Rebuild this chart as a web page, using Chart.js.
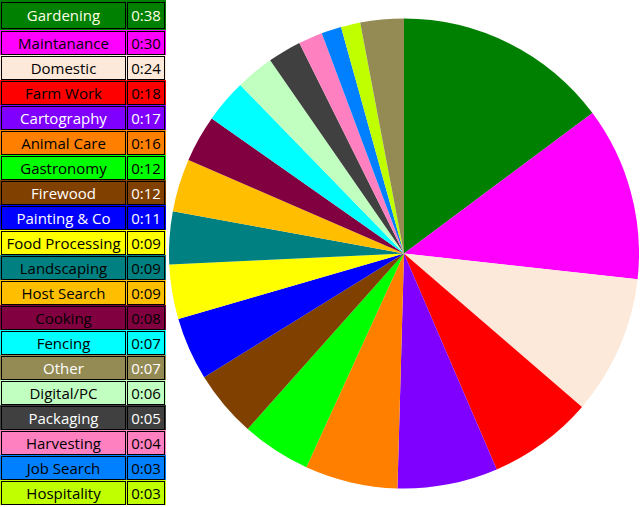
<!DOCTYPE html>
<html>
<head>
<meta charset="utf-8">
<script src="https://cdn.jsdelivr.net/npm/chart.js@4"></script>
<style>
html,body{margin:0;padding:0;background:#fff;width:640px;height:507px;overflow:hidden;}
#legend{position:absolute;left:0;top:0;width:166px;font-family:"Open Sans",sans-serif;font-size:15px;}
.row{position:absolute;left:0;width:166px;}
.cell{position:absolute;box-sizing:border-box;border:1px solid #000;display:flex;align-items:center;justify-content:center;white-space:nowrap;line-height:1;}
#wrap{position:absolute;left:169px;top:0;width:470px;height:507px;}
</style>
</head>
<body>
<div id="legend"></div>
<div id="wrap"><canvas id="c"></canvas></div>
<script>
// Categories in legend (table) order
const categories = ["Gardening","Maintanance","Domestic","Farm Work","Cartography","Animal Care","Gastronomy","Firewood","Painting & Co","Food Processing","Landscaping","Host Search","Cooking","Fencing","Other","Digital/PC","Packaging","Harvesting","Job Search","Hospitality"];
// Time labels shown in the table
const timeLabels = ["0:38","0:30","0:24","0:18","0:17","0:16","0:12","0:12","0:11","0:09","0:09","0:09","0:08","0:07","0:07","0:06","0:05","0:04","0:03","0:03"];
// Slice sizes (minutes)
const sliceValues = [36.7,29.6,23.7,17.9,17.1,15.8,11.8,11.4,10.7,9.3,9.0,9.0,8.0,7.4,7.4,6.5,5.7,4.1,3.4,3.3];
// Fill colours per category
const colors = ["#008000","#ff00ff","#fde9d9","#ff0000","#8000ff","#ff8000","#00ff00","#804000","#0000ff","#ffff00","#008080","#ffbf00","#800040","#00ffff","#948a54","#c0ffc0","#404040","#ff80c0","#0080ff","#bfff00"];
// Text colours in the table
const textColors = ["#ffffe8","#000","#000","#000","#fff","#000","#000","#fff","#fff","#000","#000","#000","#000","#000","#fff","#000","#fff","#000","#000","#000"];
// "Other" is drawn last in the pie
const pieCategoryLast = "Other";

// Legend table
const legend = document.getElementById("legend");
categories.forEach((cat,i)=>{
  const top = i===0 ? 0 : 30 + 25*(i-1);
  const h = i===0 ? 30 : 25;
  const row = document.createElement("div");
  row.className = "row";
  row.style.top = top + "px";
  row.style.height = h + "px";
  row.style.background = colors[i];
  const ct = i===0 ? 2 : 1;
  const ch = i===0 ? 27 : 24;
  const c1 = document.createElement("div");
  c1.className = "cell";
  Object.assign(c1.style,{left:"1px",top:ct+"px",width:"125px",height:ch+"px",color:textColors[i]});
  c1.textContent = cat;
  const c2 = document.createElement("div");
  c2.className = "cell";
  Object.assign(c2.style,{left:"127px",top:ct+"px",width:"38px",height:ch+"px",color:textColors[i]});
  c2.textContent = timeLabels[i];
  row.appendChild(c1); row.appendChild(c2);
  legend.appendChild(row);
});

// Pie order
const idx = categories.map((_,i)=>i).filter(i=>categories[i]!==pieCategoryLast);
idx.push(categories.indexOf(pieCategoryLast));

new Chart(document.getElementById("c"),{
  type:"pie",
  data:{
    labels: idx.map(i=>categories[i]),
    datasets:[{
      data: idx.map(i=>sliceValues[i]),
      backgroundColor: idx.map(i=>colors[i]),
      borderWidth:0
    }]
  },
  options:{
    responsive:true,
    maintainAspectRatio:false,
    animation:false,
    layout:{padding:0},
    plugins:{legend:{display:false},tooltip:{enabled:false}}
  }
});
</script>
</body>
</html>
